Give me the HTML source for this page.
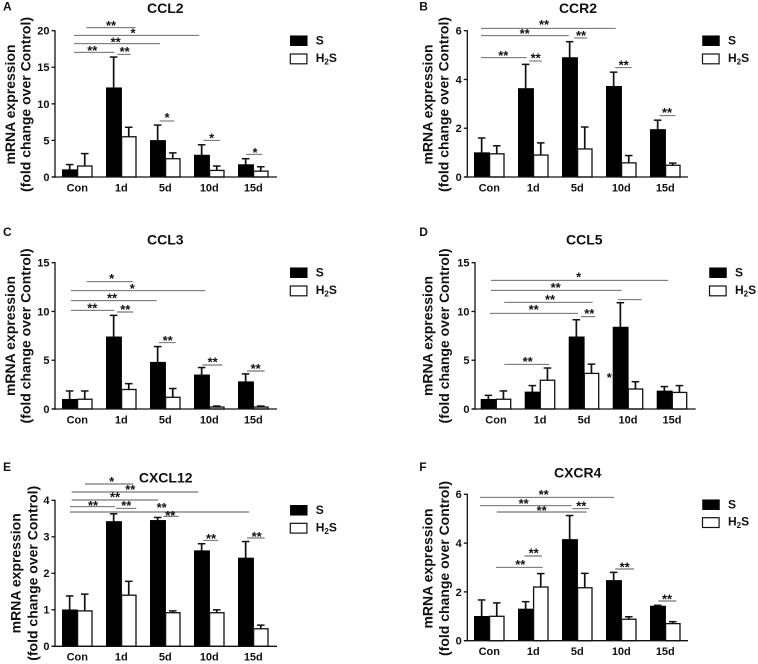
<!DOCTYPE html>
<html lang="en">
<head>
<meta charset="utf-8">
<title>mRNA expression panels</title>
<style>
html,body{margin:0;padding:0;background:#fff;width:758px;height:664px;overflow:hidden}
svg{display:block;filter:blur(0.3px)}
text{font-family:"Liberation Sans",Arial,sans-serif;font-weight:bold;fill:#111}
</style>
</head>
<body>
<svg id="figure" xmlns="http://www.w3.org/2000/svg" width="758" height="664" viewBox="0 0 758 664"></svg>
<script>
const categories = ["Con", "1d", "5d", "10d", "15d"];

const ccl2Ticks = [0, 5, 10, 15, 20];
const ccl2S = [1, 12.2, 5, 3, 1.7];
const ccl2SUpper = [1.7, 16.4, 7.1, 4.4, 2.5];
const ccl2H = [1.5, 5.5, 2.5, 0.9, 0.8];
const ccl2HUpper = [3.2, 6.8, 3.3, 1.5, 1.4];

const ccr2Ticks = [0, 2, 4, 6];
const ccr2S = [1, 3.63, 4.9, 3.72, 1.95];
const ccr2SUpper = [1.6, 4.62, 5.55, 4.3, 2.33];
const ccr2H = [0.95, 0.9, 1.15, 0.58, 0.48];
const ccr2HUpper = [1.28, 1.4, 2.05, 0.88, 0.57];

const ccl3Ticks = [0, 5, 10, 15];
const ccl3S = [1, 7.4, 4.8, 3.5, 2.8];
const ccl3SUpper = [1.85, 9.6, 6.4, 4.25, 3.6];
const ccl3H = [1, 2, 1.2, 0.2, 0.2];
const ccl3HUpper = [1.85, 2.6, 2.1, 0.3, 0.3];

const ccl5Ticks = [0, 5, 10, 15];
const ccl5S = [1, 1.75, 7.4, 8.4, 1.85];
const ccl5SUpper = [1.4, 2.4, 9.15, 10.9, 2.3];
const ccl5H = [1, 2.95, 3.65, 2.05, 1.7];
const ccl5HUpper = [1.85, 4.2, 4.6, 2.8, 2.4];

const cxcl12Ticks = [0, 1, 2, 3, 4];
const cxcl12S = [1, 3.42, 3.45, 2.62, 2.42];
const cxcl12SUpper = [1.38, 3.63, 3.53, 2.81, 2.87];
const cxcl12H = [0.97, 1.4, 0.92, 0.92, 0.48];
const cxcl12HUpper = [1.43, 1.78, 0.97, 1.0, 0.58];

const cxcr4Ticks = [0, 2, 4, 6];
const cxcr4S = [1, 1.3, 4.15, 2.47, 1.42];
const cxcr4SUpper = [1.67, 1.6, 5.13, 2.8, 1.45];
const cxcr4H = [1, 2.2, 2.17, 0.88, 0.7];
const cxcr4HUpper = [1.55, 2.75, 2.76, 0.98, 0.78];

const NS = "http://www.w3.org/2000/svg";
const root = document.getElementById("figure");

function el(tag, attrs, parent, name) {
  const node = document.createElementNS(NS, tag);
  for (const k in attrs) node.setAttribute(k, attrs[k]);
  
  
  parent.appendChild(node);
  return node;
}

function line(parent, name, x1, y1, x2, y2, w, color) {
  return el("line", {x1, y1, x2, y2, stroke: color || "#111", "stroke-width": w}, parent, name);
}

function txt(parent, name, x, y, str, size, anchor, extra) {
  const t = el("text", Object.assign({x, y, "font-size": size, "text-anchor": anchor || "start"}, extra || {}), parent, name);
  t.textContent = str;
  return t;
}

function drawPanel(o) {
  const g = el("g", {}, root, "panel-" + o.id);
  const maxTick = o.ticks[o.ticks.length - 1];
  const yScale = v => o.yBottom - (v / maxTick) * (o.yBottom - o.yTop);
  const groupX = i => o.barStart + 44 * i;

  txt(g, "panel-letter", o.letterX, o.letterY, o.letter, 12);
  txt(g, "chart-title", o.titleX, o.titleY, o.title, 14, "middle");

  txt(g, "y-axis-title", 0, 0, "mRNA expression", 14, "middle",
    {transform: "translate(" + o.lab1X + "," + o.labY + ") rotate(-90)"});
  txt(g, "y-axis-subtitle", 0, 0, "(fold change over Control)", 14, "middle",
    {transform: "translate(" + o.lab2X + "," + o.labY + ") rotate(-90)"});

  categories.forEach((c, i) => {
    const x0 = groupX(i), w = 14.7;
    const sTop = yScale(o.s[i]), hTop = yScale(o.h[i]);
    const sCx = x0 + w / 2, hCx = x0 + w + 0.4 + w / 2;
    const sU = yScale(o.sU[i]), hU = yScale(o.hU[i]);

    line(g, "error-bar-s-" + c, sCx, sTop, sCx, sU, 1.7);
    line(g, "error-cap-s-" + c, sCx - 3.8, sU, sCx + 3.8, sU, 1.5);
    line(g, "error-bar-h2s-" + c, hCx, hTop, hCx, hU, 1.7);
    line(g, "error-cap-h2s-" + c, hCx - 3.8, hU, hCx + 3.8, hU, 1.5);

    el("rect", {x: x0, y: sTop, width: w + 0.6, height: o.yBottom - sTop, fill: "#000", stroke: "#000", "stroke-width": 0.6}, g, "bar-s-" + c);
    el("rect", {x: x0 + w + 0.6, y: hTop, width: w - 0.3, height: o.yBottom - hTop, fill: "#fff", stroke: "#111", "stroke-width": 1.3}, g, "bar-h2s-" + c);

    txt(g, "x-tick-label", x0 + 15, o.yBottom + 14.3, c, 11, "middle");
  });

  line(g, "y-axis", o.axisX, o.yTop - 0.6, o.axisX, o.yBottom + 0.6, 1.3);
  line(g, "x-axis", o.axisX - 3, o.yBottom, o.axisEnd, o.yBottom, 1.3);

  o.ticks.forEach(t => {
    const y = yScale(t);
    line(g, "y-tick", o.axisX - 3.5, y, o.axisX, y, 1.3);
    txt(g, "y-tick-label", o.axisX - 5.5, y + 3.9, String(t), 11, "end");
  });

  const sw = o.swatchX, tx = o.legendTextX;
  el("rect", {x: sw, y: o.legY1, width: 17, height: 10, fill: "#000", stroke: "#000", "stroke-width": 0.5}, g, "legend-swatch-s");
  txt(g, "legend-label-s", tx, o.legY1 + 8.6, "S", 12);
  el("rect", {x: sw, y: o.legY2, width: 16.6, height: 9.8, fill: "#fff", stroke: "#111", "stroke-width": 1.2}, g, "legend-swatch-h2s");
  const lt = txt(g, "legend-label-h2s", tx, o.legY2 + 8, "H", 12);
  const sub = document.createElementNS(NS, "tspan");
  sub.setAttribute("dy", "2.5");
  sub.setAttribute("font-size", "8");
  sub.textContent = "2";
  lt.appendChild(sub);
  const tail = document.createElementNS(NS, "tspan");
  tail.setAttribute("dy", "-2.5");
  tail.textContent = "S";
  lt.appendChild(tail);

  return g;
}

function sig(g, x1, x2, y, label, tx, starY, color) {
  if (x2 > x1) line(g, "significance-line", x1, y, x2, y, 0.9, color || "#555");
  if (label) txt(g, "significance-label", tx, starY + 6.2, label, 13, "middle");
}

const pA = drawPanel({id:"ccl2", letter:"A", title:"CCL2", letterX:3, letterY:10.5, titleX:165.3, titleY:13,
  lab1X:15, lab2X:30.5, labY:104.5, axisX:55, axisEnd:277, barStart:62.3, yTop:30.7, yBottom:177,
  ticks:ccl2Ticks, s:ccl2S, sU:ccl2SUpper, h:ccl2H, hU:ccl2HUpper,
  swatchX:290.3, legendTextX:315.7, legY1:35.7, legY2:54});
sig(pA,86.3,135.7,27.7,"**",111,23.7);
sig(pA,74,199.3,35.3,"*",133,31.3);
sig(pA,74,160,43.7,"**",115.7,40.3);
sig(pA,74,114.3,52.3,"**",92.3,48.7);
sig(pA,117.3,130.7,54.3,"**",124.7,50);
sig(pA,159.7,174.3,121,"*",167,116);
sig(pA,203.3,220,140.3,"*",211.7,136.3);
sig(pA,246.3,262.3,154.3,"*",255,150.7);

const pB = drawPanel({id:"ccr2", letter:"B", title:"CCR2", letterX:419.3, letterY:10.5, titleX:578, titleY:13,
  lab1X:432.7, lab2X:448.7, labY:104.5, axisX:467.3, axisEnd:688, barStart:474.3, yTop:30.7, yBottom:177,
  ticks:ccr2Ticks, s:ccr2S, sU:ccr2SUpper, h:ccr2H, hU:ccr2HUpper,
  swatchX:702.5, legendTextX:728, legY1:35.7, legY2:54});
sig(pB,481,615.7,28.3,"**",544,22.7);
sig(pB,481,568.7,35.7,"**",524.7,31.7);
sig(pB,481,526.7,57.7,"**",503.3,53.7);
sig(pB,529,541.7,61,"**",535.7,56.3);
sig(pB,574,587.3,38,"**",581,33.7);
sig(pB,615.3,631.7,67.7,"**",623.7,63.3);
sig(pB,659.3,675.3,115.7,"**",667,111);

const pC = drawPanel({id:"ccl3", letter:"C", title:"CCL3", letterX:3, letterY:236, titleX:165.3, titleY:244.5,
  lab1X:15, lab2X:30.5, labY:336, axisX:55, axisEnd:277, barStart:62.3, yTop:262.7, yBottom:409,
  ticks:ccl3Ticks, s:ccl3S, sU:ccl3SUpper, h:ccl3H, hU:ccl3HUpper,
  swatchX:290.3, legendTextX:315.7, legY1:267.7, legY2:286});
sig(pC,86.7,132.7,281.7,"*",111.7,276.7);
sig(pC,71,205.3,290.7,"*",132.3,286.7);
sig(pC,71,156.7,300.7,"**",112,296.3);
sig(pC,71,114.3,310.3,"**",92.3,306.3);
sig(pC,117,133.3,312,"**",125.3,307.7);
sig(pC,159,175.7,342.7,"**",167.7,338.7);
sig(pC,202.3,222.3,365,"**",212.7,360.3);
sig(pC,247,264.7,371,"**",255.7,366.7);

const pD = drawPanel({id:"ccl5", letter:"D", title:"CCL5", letterX:419.3, letterY:236, titleX:584.3, titleY:244.5,
  lab1X:432.7, lab2X:449, labY:336, axisX:475, axisEnd:695.7, barStart:481, yTop:262.7, yBottom:409,
  ticks:ccl5Ticks, s:ccl5S, sU:ccl5SUpper, h:ccl5H, hU:ccl5HUpper,
  swatchX:709.5, legendTextX:735, legY1:267.7, legY2:286});
sig(pD,491,668.3,280.3,"*",578.7,275.3);
sig(pD,491,621.7,290.3,"**",555.7,285.7);
sig(pD,504.3,592.7,302.3,"**",550,298);
sig(pD,490,578,313.3,"**",533.7,308);
sig(pD,580.7,595.3,316.7,"**",589.3,312);
sig(pD,504.3,549.3,364.3,"**",527.7,359.7);
sig(pD,618.3,641.7,299.7,"",0,0);
sig(pD,0,0,0,"*",609.3,376);

const pE = drawPanel({id:"cxcl12", letter:"E", title:"CXCL12", letterX:3, letterY:471, titleX:165.7, titleY:482.5,
  lab1X:20.7, lab2X:37.3, labY:573.3, axisX:55, axisEnd:277, barStart:62.3, yTop:500.3, yBottom:646.3,
  ticks:cxcl12Ticks, s:cxcl12S, sU:cxcl12SUpper, h:cxcl12H, hU:cxcl12HUpper,
  swatchX:290.3, legendTextX:315.7, legY1:505.3, legY2:523.3});
sig(pE,85,133.3,484,"*",111.7,480);
sig(pE,71.7,198.3,492,"**",130.3,488);
sig(pE,71.7,158.3,500,"**",115,495.3);
sig(pE,70,115,506.7,"**",93,503.7);
sig(pE,116,136.3,508.3,"**",126.3,504);
sig(pE,70,249,512,"**",161.7,506);
sig(pE,163.3,178.7,516.3,"**",170.3,513.7);
sig(pE,203.3,218.3,540.3,"**",211,536.7);
sig(pE,247,264.7,538,"**",256.7,535);

const pF = drawPanel({id:"cxcr4", letter:"F", title:"CXCR4", letterX:419.3, letterY:471, titleX:577.7, titleY:477.5,
  lab1X:432.7, lab2X:449, labY:568.5, axisX:467.3, axisEnd:688, barStart:474.3, yTop:494.3, yBottom:640.7,
  ticks:cxcr4Ticks, s:cxcr4S, sU:cxcr4SUpper, h:cxcr4H, hU:cxcr4HUpper,
  swatchX:702.5, legendTextX:728, legY1:499.7, legY2:517.7});
sig(pF,480,614,497.3,"**",543.7,492.7);
sig(pF,480,571.7,505.7,"**",523.7,501.7);
sig(pF,496.7,586.7,512,"**",541.7,509);
sig(pF,572.3,589.3,508.7,"**",581.3,504.3);
sig(pF,524.3,542,556,"**",533.7,551.3);
sig(pF,496,542.7,567.3,"**",520.3,563);
sig(pF,615.3,634,569,"**",624.7,565.3);
sig(pF,658.3,676.3,601,"**",667,597.3);
</script>
</body>
</html>
